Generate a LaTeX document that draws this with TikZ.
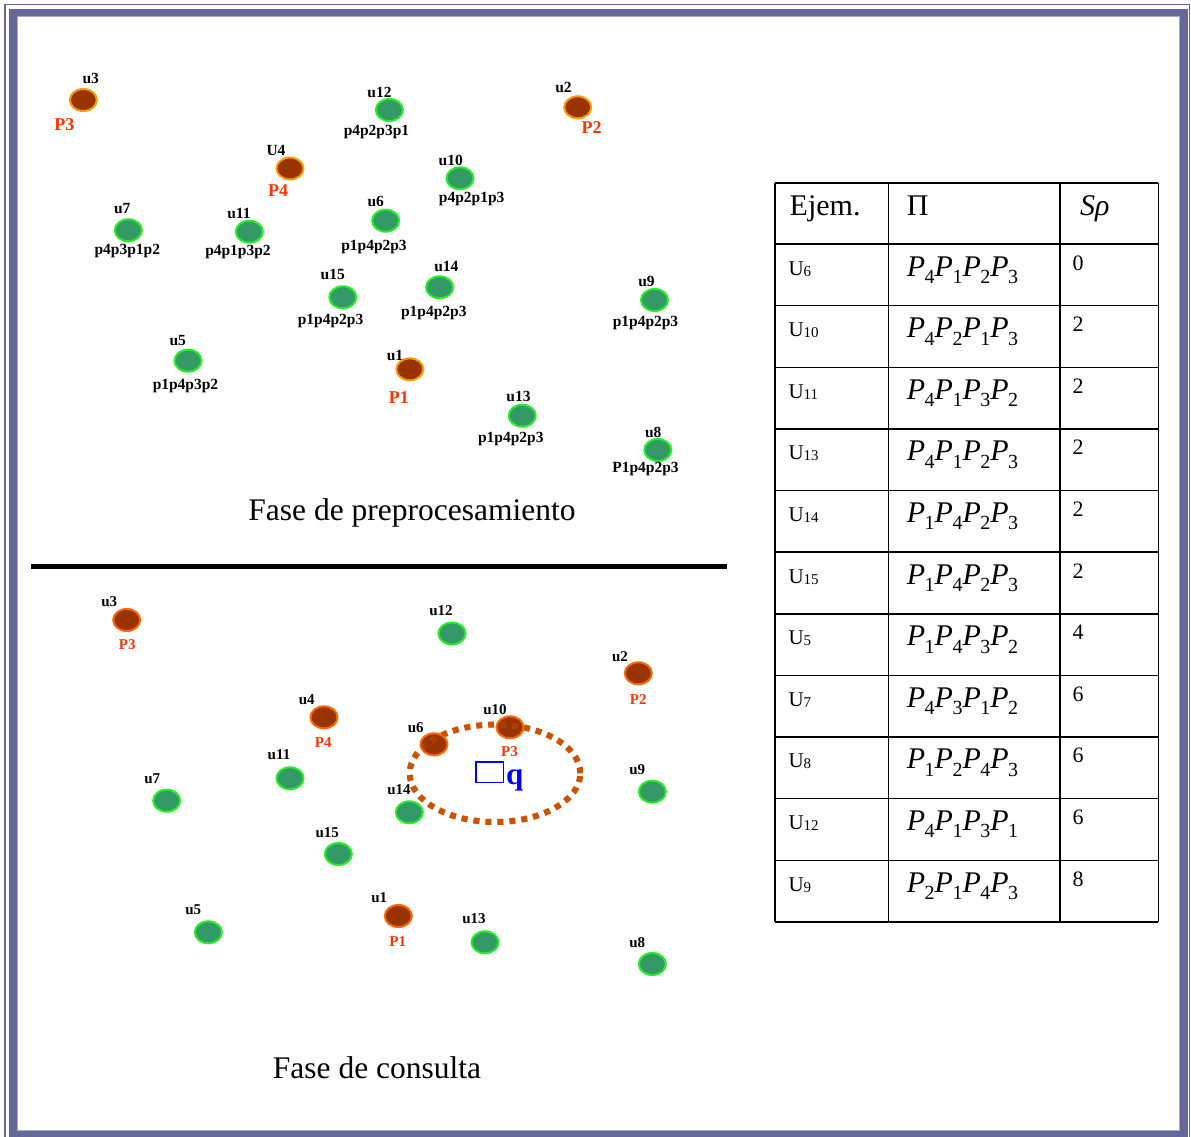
\documentclass[tikz,border=0pt]{standalone}
\usepackage{fontspec}
\setmainfont{Liberation Serif}
\usetikzlibrary{shapes.geometric}

\definecolor{frameblue}{HTML}{666699}
\definecolor{frameedge}{HTML}{A6A6C8}
\definecolor{dotgreen}{HTML}{339966}
\definecolor{rimgreen}{HTML}{22F022}
\definecolor{dotbrown}{HTML}{993300}
\definecolor{rimamber}{HTML}{FF9900}
\definecolor{rimorange}{HTML}{FF6600}
\definecolor{labred}{HTML}{FF3300}
\definecolor{zonecol}{HTML}{CC5200}
\definecolor{qblue}{HTML}{0000FF}

\newcommand{\fsz}[1]{\fontsize{#1}{#1}\selectfont}
% italic P with a lowered index digit
\newcommand{\Pq}[1]{{\itshape P}\kern-0.5pt\raisebox{-7.5pt}{\fsz{20}#1}}
\newcommand{\Pseq}[4]{\Pq{#1}\Pq{#2}\Pq{#3}\Pq{#4}}

\tikzset{
  gdot/.style={ellipse, draw=rimgreen, fill=dotgreen, line width=2pt,
    minimum width=27pt, minimum height=22pt, inner sep=0pt},
  bdot/.style={ellipse, draw=rimamber, fill=dotbrown, line width=2pt,
    minimum width=27pt, minimum height=22pt, inner sep=0pt},
  bdotq/.style={bdot, draw=rimorange},
  tag/.style={inner sep=0pt, font=\fsz{15.5}\bfseries},
  tagq/.style={inner sep=0pt, font=\fsz{15}\bfseries},
  ptag/.style={inner sep=0pt, font=\fsz{18}\bfseries, text=labred},
  ptagq/.style={inner sep=0pt, font=\fsz{15}\bfseries, text=labred},
  title/.style={inner sep=0pt, font=\fsz{31.5}},
  cellhead/.style={inner sep=0pt, anchor=base west, font=\fsz{30}},
  cellrow/.style={inner sep=0pt, anchor=base west, font=\fsz{21}},
  cellperm/.style={inner sep=0pt, anchor=base west, font=\fsz{30}},
  cellval/.style={inner sep=0pt, anchor=base west, font=\fsz{22}},
  grid/.style={line width=1.4pt, black},
  zoneline/.style={draw=zonecol, line width=6pt, dash pattern=on 6pt off 6pt},
}

\begin{document}
\begin{tikzpicture}[x=1pt, y=-1pt]
\useasboundingbox (0,0) rectangle (1191,1137);

% page frame
\draw[frameblue, line width=1.4pt] (4.8,4.8) rectangle (1189.4,1145);
\draw[frameblue, line width=7.6pt] (12.8,12.8) rectangle (1184,1134.6);
\draw[frameedge, line width=0.8pt] (16.9,16.9) rectangle (1179.8,1130.4);

% ---------------- preprocessing phase ----------------
\node[bdot] (a3) at (83.3,100) {};
\node[tag] (a3n) at (90.7,78.3) {u3};
\node[ptag] (a3p) at (64.3,125) {P3};

\node[gdot] (a12) at (389.3,110) {};
\node[tag] (a12n) at (379.5,92) {u12};
\node[tag] (a12s) at (376.5,132.5) {p4p2p3p1};

\node[bdot] (a2) at (577.7,107.3) {};
\node[tag] (a2n) at (563.5,87) {u2};
\node[ptag] (a2p) at (591.7,128) {P2};

\node[bdot] (a4) at (290,168.5) {};
\node[tag] (a4n) at (276,150.7) {U4};
\node[ptag] (a4p) at (278,191) {P4};

\node[gdot] (a10) at (460,178.3) {};
\node[tag] (a10n) at (450.7,160) {u10};
\node[tag] (a10s) at (471.7,199.3) {p4p2p1p3};

\node[gdot] (a7) at (128.3,230.3) {};
\node[tag] (a7n) at (122.3,209) {u7};
\node[tag] (a7s) at (127.3,250.7) {p4p3p1p2};

\node[gdot] (a11) at (249.3,231.7) {};
\node[tag] (a11n) at (239,213.3) {u11};
\node[tag] (a11s) at (238,252.3) {p4p1p3p2};

\node[gdot] (a6) at (385.7,220.7) {};
\node[tag] (a6n) at (375.7,201.7) {u6};
\node[tag] (a6s) at (374,247.3) {p1p4p2p3};

\node[gdot] (a15) at (342.8,297.3) {};
\node[tag] (a15n) at (332.8,274) {u15};
\node[tag] (a15s) at (330.6,321.2) {p1p4p2p3};

\node[gdot] (a14) at (439.6,287.3) {};
\node[tag] (a14n) at (446.4,266.7) {u14};
\node[tag] (a14s) at (433.8,312.8) {p1p4p2p3};

\node[gdot] (a9) at (654.5,300) {};
\node[tag] (a9n) at (646.5,281.7) {u9};
\node[tag] (a9s) at (645.5,323.3) {p1p4p2p3};

\node[gdot] (a5) at (188,360.7) {};
\node[tag] (a5n) at (177.7,340.7) {u5};
\node[tag] (a5s) at (185.5,386.2) {p1p4p3p2};

\node[bdot] (a1) at (409.8,369.3) {};
\node[tag] (a1n) at (395,355.7) {u1};
\node[ptag] (a1p) at (398.8,397.7) {P1};

\node[gdot] (a13) at (522.2,415.7) {};
\node[tag] (a13n) at (518.5,396) {u13};
\node[tag] (a13s) at (510.8,439.5) {p1p4p2p3};

\node[gdot] (a8) at (657.8,450) {};
\node[tag] (a8n) at (653.2,432.7) {u8};
\node[tag] (a8s) at (645.5,469.3) {P1p4p2p3};

\node[title] (t1) at (412,513) {Fase de preprocesamiento};

% phase separator
\coordinate (sepL) at (31,566);
\coordinate (sepR) at (727,566);
\draw[line width=5pt] (sepL) -- (sepR);

% ---------------- query phase ----------------
\node[ellipse, zoneline, minimum width=170.6pt, minimum height=97.4pt,
      inner sep=0pt] (zone) at (495,773.3) {};

\node[bdotq] (b3) at (126.7,620) {};
\node[tagq] (b3n) at (109.3,601.7) {u3};
\node[ptagq] (b3p) at (127.3,645) {P3};

\node[gdot] (b12) at (452,633.5) {};
\node[tagq] (b12n) at (441,611) {u12};

\node[bdotq] (b2) at (638.3,673.3) {};
\node[tagq] (b2n) at (620,656.7) {u2};
\node[ptagq] (b2p) at (638.3,700) {P2};

\node[bdotq] (b4) at (324,717.3) {};
\node[tagq] (b4n) at (306.7,699.3) {u4};
\node[ptagq] (b4p) at (323.3,742.7) {P4};

\node[bdotq] (b10) at (510,727.3) {};
\node[tagq] (b10n) at (495,709.3) {u10};
\node[ptagq] (b10p) at (509.5,752) {P3};

\node[bdotq] (b6) at (434,744.3) {};
\node[tagq] (b6n) at (415.7,727.3) {u6};

% the zone boundary shows faintly across the points it passes over
\node[ellipse, zoneline, draw opacity=0.35, minimum width=170.6pt,
      minimum height=97.4pt, inner sep=0pt] (zonetop) at (zone.center) {};

\node[gdot] (b11) at (290,778.3) {};
\node[tagq] (b11n) at (279,755) {u11};

\node[gdot] (b7) at (166.7,800.7) {};
\node[tagq] (b7n) at (152.3,778.3) {u7};

\node[gdot] (b14) at (409.3,812.3) {};
\node[tagq] (b14n) at (399,789.3) {u14};

\node[gdot] (b9) at (652.3,791.7) {};
\node[tagq] (b9n) at (637.3,769.3) {u9};

\node[gdot] (b15) at (338.3,854) {};
\node[tagq] (b15n) at (327.3,832.7) {u15};

\node[gdot] (b5) at (208.3,932.3) {};
\node[tagq] (b5n) at (193.3,910) {u5};

\node[bdotq] (b1) at (398.3,916) {};
\node[tagq] (b1n) at (379.3,897.7) {u1};
\node[ptagq] (b1p) at (397.7,941.7) {P1};

\node[gdot] (b13) at (485,942.3) {};
\node[tagq] (b13n) at (474,919) {u13};

\node[gdot] (b8) at (652.3,964) {};
\node[tagq] (b8n) at (637.3,942.7) {u8};

% query point
\node[draw=qblue, line width=1.8pt, minimum width=27.5pt, minimum height=20.5pt,
      inner sep=0pt] (qbox) at (489.7,772.2) {};
\node[inner sep=0pt, anchor=base west, text height=14pt, text depth=7pt,
      font=\fsz{31}\bfseries, text=qblue] (qlab) at (506,784) {q};

\node[title] (t2) at (377,1068) {Fase de consulta};

% ---------------- ranking table ----------------
\foreach \yy in {183,244,305.6,367.3,428.9,490.5,552.1,613.8,675.4,737,798.6,860.3,921.9}
  \draw[grid] (775,\yy) -- (1158.3,\yy);
\foreach \xx in {775,888.3,1060,1158.3}
  \draw[grid] (\xx,183) -- (\xx,921.9);

\node[cellhead] (hEj) at (789.5,215) {Ejem.};
\node[cellhead] (hPi) at (906.7,215) {Π};
\node[cellhead] (hSr) at (1080,215) {\itshape Sρ};

\foreach \u/\pa/\pb/\pc/\pd/\s [count=\i from 0] in
  {6/4/1/2/3/0, 10/4/2/1/3/2, 11/4/1/3/2/2, 13/4/1/2/3/2, 14/1/4/2/3/2,
   15/1/4/2/3/2, 5/1/4/3/2/4, 7/4/3/1/2/6, 8/1/2/4/3/6, 12/4/1/3/1/6, 9/2/1/4/3/8}
{
  \pgfmathsetmacro{\tp}{244+61.6*\i}
  \node[cellrow] (ru\i) at (788.3,\tp+31) {U\raisebox{-1pt}{\fsz{15}\u}};
  \node[cellperm] (rp\i) at (906.7,\tp+32) {\Pseq{\pa}{\pb}{\pc}{\pd}};
  \node[cellval] (rv\i) at (1072.5,\tp+26) {\s};
}
\end{tikzpicture}
\end{document}
